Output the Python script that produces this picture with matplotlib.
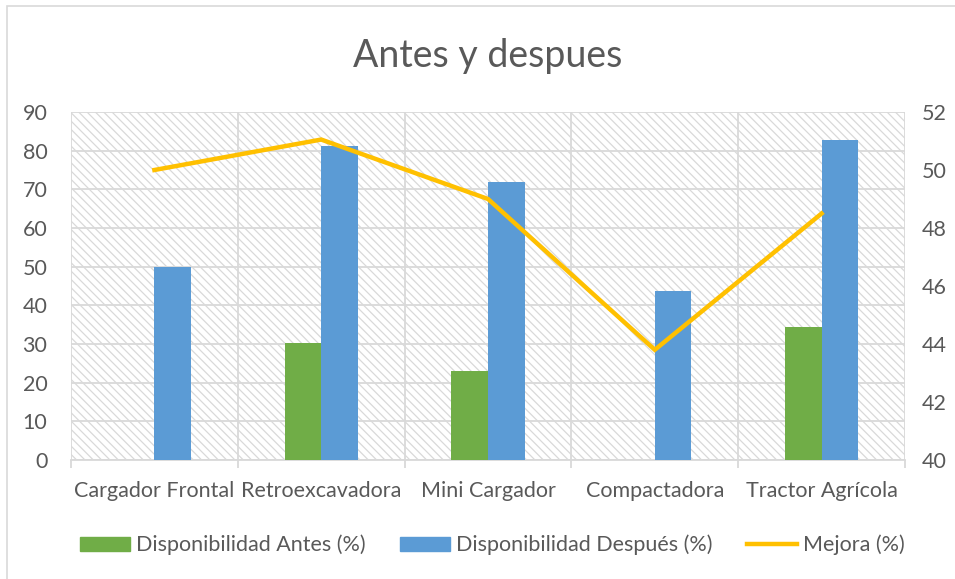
import numpy as np
import matplotlib.pyplot as plt
from matplotlib.patches import Rectangle, Patch
from matplotlib.lines import Line2D

plt.rcParams['font.family'] = ['Lato', 'DejaVu Sans']
plt.rcParams['hatch.linewidth'] = 0.9
plt.rcParams['hatch.color'] = '#dcdcdc'

categorias = ['Cargador Frontal', 'Retroexcavadora', 'Mini Cargador', 'Compactadora', 'Tractor Agrícola']
antes = [0, 30.3, 23.0, 0, 34.5]
despues = [50.0, 81.3, 72.0, 43.8, 82.8]
mejora = [50.0, 51.05, 49.0, 43.8, 48.5]

verde = '#70ad47'
azul = '#5b9bd5'
amarillo = '#ffc000'
gris = '#595959'
rejilla = '#d9d9d9'

fig = plt.figure(figsize=(9.55, 5.79), dpi=100)
fig.patches.append(Rectangle((7 / 955, -0.01), 1.0, 1 - 6 / 579 + 0.01, transform=fig.transFigure,
                             fill=False, edgecolor='#d9d9d9', linewidth=1.2))

ax = fig.add_axes([71 / 955, 119 / 579, 834 / 955, 348 / 579])
ax2 = ax.twinx()

# fondo rayado
ax.add_patch(Rectangle((0, 0), 1, 1, transform=ax.transAxes, facecolor='white',
                       hatch='\\\\\\\\', edgecolor=rejilla, linewidth=0, zorder=0))

x = np.arange(len(categorias))
w = 0.22
ax.bar(x - w / 2, antes, w, color=verde, zorder=3)
ax.bar(x + w / 2, despues, w, color=azul, zorder=3)

ax.set_xlim(-0.5, len(categorias) - 0.5)
ax.set_ylim(0, 90)
ax.set_yticks(range(0, 91, 10))
ax.grid(axis='y', color=rejilla, linewidth=1.3, zorder=1)
ax.set_axisbelow(True)

ax.set_xticks(np.arange(-0.5, len(categorias), 1))
ax.set_xticklabels([])
ax.set_xticks(x, minor=True)
ax.set_xticklabels(categorias, minor=True)
ax.tick_params(axis='x', which='major', length=6, color=rejilla, width=1.3)
ax.tick_params(axis='x', which='minor', length=0, pad=15, labelsize=15.5, labelcolor=gris)
ax.tick_params(axis='y', length=0, pad=17, labelsize=15.5, labelcolor=gris)
for xb in np.arange(-0.5, len(categorias), 1):
    ax.axvline(xb, color=rejilla, linewidth=1.3, zorder=1)

ax2.plot(x, mejora, color=amarillo, linewidth=3.2, zorder=4, solid_joinstyle='miter')
ax2.set_ylim(40, 52)
ax2.set_yticks(range(40, 53, 2))
ax2.tick_params(axis='y', length=0, pad=12, labelsize=15.5, labelcolor=gris)

for a in (ax, ax2):
    for s in a.spines.values():
        s.set_visible(False)
ax.spines['bottom'].set_visible(True)
ax.spines['bottom'].set_color(rejilla)
ax.spines['bottom'].set_linewidth(1.3)

fig.text(488 / 955, 1 - 56 / 579, 'Antes y despues', ha='center', va='center', fontsize=27, color=gris)

handles = [Patch(color=verde, label='Disponibilidad Antes (%)'),
           Patch(color=azul, label='Disponibilidad Después (%)'),
           Line2D([], [], color=amarillo, linewidth=3.2, label='Mejora (%)')]
fig.legend(handles=handles, loc='center', bbox_to_anchor=(492 / 955, 1 - 545 / 579), ncol=3,
           frameon=False, fontsize=15.5, labelcolor=gris, handlelength=2.35, handleheight=0.65,
           handletextpad=0.25, columnspacing=1.6)

fig.savefig('out.png', dpi=100)
